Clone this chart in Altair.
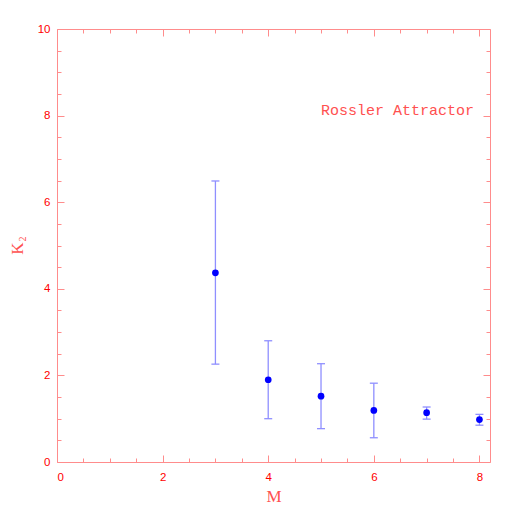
import altair as alt
import pandas as pd

# Embedding dimension and K2 estimates with error bars
M = [3, 4, 5, 6, 7, 8]
K2 = [4.37, 1.90, 1.52, 1.19, 1.14, 0.98]
K2_lo = [2.26, 1.00, 0.77, 0.56, 0.99, 0.85]
K2_hi = [6.49, 2.80, 2.27, 1.82, 1.27, 1.10]

x_major = [0, 2, 4, 6, 8]
y_major = [0, 2, 4, 6, 8, 10]
x_ticks = [0, 0.5, 1, 1.5, 2, 2.5, 3, 3.5, 4, 4.5, 5, 5.5, 6, 6.5, 7, 7.5, 8]
y_ticks = [0, 0.5, 1, 1.5, 2, 2.5, 3, 3.5, 4, 4.5, 5, 5.5, 6, 6.5, 7, 7.5, 8,
           8.5, 9, 9.5, 10]

label_text = ["Rossler Attractor"]

df = pd.DataFrame({"M": M, "K2": K2, "lo": K2_lo, "hi": K2_hi})
txt = pd.DataFrame({"label": label_text, "x": [5.0], "y": [8.02]})
sub = pd.DataFrame({"s": ["2"]})

W = 433
H = 433
FRAME = "#ff8c8c"
LABEL = "#ff0000"
TITLE = "#ff5050"

xs = alt.Scale(domain=[0, 8.2], nice=False, zero=False)
ys = alt.Scale(domain=[0, 10], nice=False, zero=False)

tick_size = {"condition": {"test": "datum.value % 2 === 0", "value": 7}, "value": 4}


def tick_axis(orient, values):
    return alt.Axis(orient=orient, offset=-W, values=values, labels=False,
                    domain=False, grid=False, ticks=True, tickColor=FRAME,
                    tickWidth=1, tickSize=tick_size, title=None)


points = alt.Chart(df).mark_circle(size=45, color="#0000ff", opacity=1).encode(
    x=alt.X("M:Q", scale=xs, axis=alt.Axis(
        orient="bottom", values=x_major, ticks=False, tickSize=0, domain=False,
        grid=False, format="d", labelFont="Liberation Sans", labelFontSize=11.5,
        labelColor=LABEL, labelPadding=9, title="M", titleFont="Liberation Serif",
        titleFontSize=17, titleFontWeight="normal", titleColor=TITLE,
        titlePadding=6)),
    y=alt.Y("K2:Q", scale=ys, axis=alt.Axis(
        orient="left", values=y_major, ticks=False, tickSize=0, domain=False,
        grid=False, format="d", labelFont="Liberation Sans", labelFontSize=11.5,
        labelColor=LABEL, labelPadding=7, title="K", titleFont="Liberation Serif",
        titleFontSize=17, titleFontWeight="normal", titleColor=TITLE,
        titleX=-35, titleY=219, titleAngle=270, titleAlign="center",
        titleBaseline="alphabetic")),
)

rules = alt.Chart(df).mark_rule(color="#8f8fff", strokeWidth=1.3).encode(
    x=alt.X("M:Q", scale=xs, axis=tick_axis("top", x_ticks)),
    y=alt.Y("lo:Q", scale=ys, axis=tick_axis("right", y_ticks)),
    y2="hi:Q",
)

caps = alt.Chart(df).transform_fold(["lo", "hi"], as_=["which", "val"]).mark_tick(
    orient="horizontal", color="#8f8fff", size=8, thickness=1.3, opacity=1
).encode(
    x=alt.X("M:Q", scale=xs, axis=tick_axis("bottom", x_ticks)),
    y=alt.Y("val:Q", scale=ys, axis=tick_axis("left", y_ticks)),
)

label = alt.Chart(txt).mark_text(
    align="left", baseline="alphabetic", font="Liberation Mono", fontSize=15,
    color=TITLE
).encode(
    x=alt.X("x:Q", scale=xs, axis=None),
    y=alt.Y("y:Q", scale=ys, axis=None),
    text="label:N",
)

# subscript "2" of the K2 axis title
subscript = alt.Chart(sub).mark_text(
    align="center", baseline="middle", font="Liberation Serif", fontSize=10,
    color=TITLE, angle=270
).encode(
    x=alt.value(-34), y=alt.value(210), text="s:N",
)

chart = alt.layer(rules, caps, points, label, subscript).resolve_axis(
    x="independent", y="independent"
).properties(
    width=W, height=H,
    padding={"left": 49, "top": 21, "right": 20, "bottom": 45},
    autosize="none",
).configure_view(stroke=FRAME, strokeWidth=1)

chart.save("out.html", embed_options={"renderer": "svg", "actions": False})
